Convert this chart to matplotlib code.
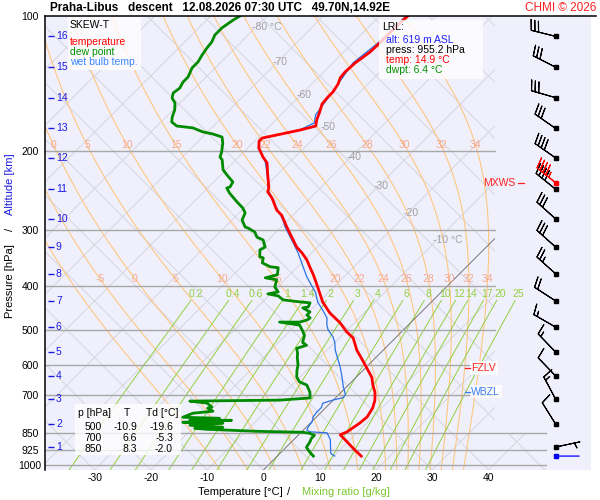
import numpy as np
import matplotlib.pyplot as plt
from matplotlib.path import Path
from matplotlib.patches import PathPatch, Rectangle
from matplotlib.lines import Line2D
from matplotlib.ticker import NullLocator

plt.rcParams['font.family'] = ['Liberation Sans', 'DejaVu Sans']
plt.rcParams['font.size'] = 7.5

# sounding (pressure hPa, temperature degC)
temp_p = [100, 106.3, 114.8, 120.3, 127.2, 133.2, 137.4, 141.7, 147.6, 151.5,
          157.0, 163.6, 170.5, 175.8, 179.5, 187.0, 189.9, 196.8, 206.0, 212.4,
          223.8, 240.4, 246.6, 254.2, 270.6, 277.8, 295.1, 304.4, 327.0, 337.0,
          349.3, 363.8, 377.0, 394.2, 412.5, 433.5, 458.5, 482.5, 505.5, 521.3,
          554.8, 584.1, 608.7, 637.8, 664.3, 688.4, 716.9, 746.5, 781.3, 805.5,
          826.3, 843.4, 856.4, 888.4, 916.7, 955.2]
temp_t = [-55.0, -55.2, -55.2, -55.3, -56.0, -56.2, -56.0, -55.3, -54.8, -54.8,
          -54.6, -53.6, -52.7, -51.8, -53.9, -59.2, -59.2, -58.0, -55.7, -53.9,
          -52.0, -49.3, -48.6, -46.8, -43.8, -42.0, -39.0, -37.4, -33.7, -31.7,
          -29.6, -27.6, -25.8, -23.7, -21.6, -19.3, -16.1, -12.5, -9.7, -7.5,
          -4.7, -1.9, 0.3, 2.8, 4.4, 6.0, 7.4, 8.4, 9.0, 8.8,
          8.4, 8.1, 7.4, 9.9, 12.0, 14.9]

wetb_p = [100, 114.8, 127.2, 146.1, 166.1, 173.0, 179.5, 188.0, 196.8, 209.2,
          223.8, 243.9, 256.9, 270.6, 284.9, 295.1, 310.2, 319.8, 337.0, 362.2,
          381.0, 400.6, 412.5, 433.5, 451.6, 470.5, 487.6, 500.0, 518.2, 534.3,
          553.9, 574.1, 604.3, 636.0, 669.4, 697.2, 708.1, 716.9, 728.6, 745.2,
          762.8, 781.3, 801.6, 822.3, 835.0, 843.5, 847.8, 878.0, 942.0, 955.2]
wetb_t = [-55.3, -55.5, -56.4, -55.0, -53.8, -52.6, -54.0, -59.4, -58.1, -54.8,
          -52.1, -48.9, -46.3, -43.6, -40.9, -39.3, -36.7, -35.1, -32.4, -29.0,
          -26.6, -23.9, -22.3, -20.2, -17.9, -15.7, -14.5, -13.4, -11.3, -9.9,
          -8.6, -7.0, -4.7, -2.6, -0.6, 1.2, 1.3, -0.1, -1.3, -0.8,
          -0.8, -0.6, 0.1, 0.3, 0.6, 1.5, 4.7, 6.5, 9.0, 10.2]

dwpt_p = [100, 102.1, 106.3, 110.2, 114.3, 117.8, 122.2, 126.6, 130.5, 136.7,
          140.3, 144.7, 148.4, 152.3, 156.2, 162.0, 167.9, 172.2, 175.8, 177.5,
          181.2, 183.1, 186.0, 191.8, 200.9, 206.1, 209.2, 220.0, 225.9, 234.2,
          240.4, 241.6, 248.0, 259.5, 267.7, 274.6, 284.6, 295.1, 296.6, 302.8,
          310.8, 315.4, 327.0, 332.0, 343.9, 345.7, 354.6, 361.8, 363.6, 377.0,
          382.9, 386.9, 401.2, 411.7, 415.8, 420.1, 428.8, 433.2, 435.4, 444.5,
          446.8, 456.2, 463.3, 470.5, 475.4, 480.5, 480.5, 488.0, 501.2, 514.6,
          533.3, 541.2, 549.9, 563.2, 577.2, 598.7, 614.2, 636.9, 653.3, 663.4,
          687.7, 709.0, 716.9, 720.6, 728.0, 743.3, 747.1, 758.9, 766.7, 782.8,
          786.8, 795.0, 795.0, 803.2, 807.3, 815.6, 824.0, 828.3, 832.6, 841.2,
          845.5, 849.8, 858.6, 871.9, 890.0, 913.1, 936.7, 955.2]
dwpt_t = [-84.8, -85.3, -85.9, -85.9, -85.2, -85.0, -84.6, -84.1, -84.1, -83.2,
          -83.2, -82.7, -83.0, -82.3, -80.9, -79.7, -78.9, -78.1, -76.5, -73.3,
          -70.8, -68.7, -66.5, -65.3, -63.9, -63.3, -62.4, -60.5, -58.9, -56.6,
          -56.2, -56.6, -55.2, -52.3, -50.2, -48.9, -48.2, -46.4, -45.7, -43.8,
          -42.5, -40.9, -39.3, -39.7, -38.5, -37.7, -37.0, -34.9, -33.3, -32.2,
          -33.8, -31.4, -30.5, -29.0, -30.5, -28.3, -26.7, -23.4, -21.4, -21.0,
          -21.8, -19.8, -19.8, -18.7, -18.9, -19.8, -23.4, -19.3, -17.9, -16.6,
          -15.7, -14.5, -15.7, -14.7, -13.9, -12.5, -11.8, -10.6, -9.2, -7.4,
          -5.6, -4.5, -9.5, -25.3, -21.9, -20.3, -20.9, -19.4, -22.6, -23.7,
          -17.0, -21.9, -14.5, -22.8, -15.5, -21.0, -14.8, -19.6, -17.3, -8.1,
          0.3, 1.7, 2.9, 2.9, 3.3, 3.6, 5.1, 6.4]

# altitude levels and winds (1..16 km)
alt_km = list(range(1, 17))
alt_p = [912, 810, 713, 633, 560, 493, 431, 375, 327, 283, 243, 207, 178, 152, 130, 111]
wind_dir = [78, 328, 332, 316, 316, 300, 303, 312, 312, 312, 309, 305, 305, 286, 297, 284]
wind_kt = [5, 10, 15, 10, 15, 15, 20, 25, 30, 30, 40, 40, 30, 30, 30, 30]
mxws_p, mxws_dir, mxws_kt = 236, 309, 45
sfc_dir, sfc_kt = 90, 2

# lowest reported level, freezing levels, table
lrl_alt, lrl_p, lrl_t, lrl_td = 619, 955.2, 14.9, 6.4
fzlv_p, wbzl_p = 608, 687
tab_p = [500, 700, 850]
tab_t = [-10.9, 6.6, 8.3]
tab_td = [-19.6, -5.3, -2.0]

# diagram background families
isobars = [200, 300, 400, 500, 600, 700, 850, 925, 1000]
thw_list = [-10, -5, 0, 5, 10, 15, 20, 22, 24, 26, 28, 30, 32, 34]
thw_lbl_rows = {194.0: [0, 5, 10, 15, 20, 22, 24, 26, 28, 30, 32, 34],
                385.0: [-5, 0, 5, 10, 15, 20, 22, 24, 26, 28, 30, 32, 34]}
mix_list = [0.2, 0.4, 0.6, 1, 1.4, 2, 3, 4, 6, 8, 10, 12, 14, 17, 20, 25]
isot_lbl_t = [-80, -70, -60, -50, -40, -30, -20, -10]
isot_lbl_p = [105.8, 126.6, 150.0, 176.8, 206.0, 239.4, 274.6, 315.0]

P_BOT = 1025.9
SKEW = 34.64
XMIN, XMAX = -38.8, 58.2
X_EDGE, X_EDGE_LOW = 41.1, 50.2
XB = 51.9
MOIST_SHIFT = 0.8


def skx(t, p):
    return np.asarray(t, float) + SKEW * np.log(P_BOT / np.asarray(p, float))


def dTdlnp(T, p):
    es = 6.112 * np.exp(17.67 * (T - 273.15) / (T - 29.65))
    rs = 0.622 * es / (p - es)
    return (287.04 * T + 2.501e6 * rs) / (1005.7 + 2.501e6 ** 2 * rs * 0.622 / (287.04 * T ** 2))


def moist(thw, lnp):
    T = np.empty((len(lnp), len(thw)))
    T[0] = np.asarray(thw) + 273.15
    for i in range(1, len(lnp)):
        h = lnp[i] - lnp[i - 1]
        p0, p1 = np.exp(lnp[i - 1]), np.exp(lnp[i])
        pm = np.exp(0.5 * (lnp[i] + lnp[i - 1]))
        t = T[i - 1]
        k1 = dTdlnp(t, p0)
        k2 = dTdlnp(t + 0.5 * h * k1, pm)
        k3 = dTdlnp(t + 0.5 * h * k2, pm)
        k4 = dTdlnp(t + h * k3, p1)
        T[i] = t + h * (k1 + 2 * k2 + 2 * k3 + k4) / 6
    return T - 273.15


fig = plt.figure(figsize=(6, 5), dpi=100)
ax = fig.add_axes([45 / 600, 30 / 500, 546 / 600, 454 / 500])
ax.set_facecolor('#f0f0fc')
ax.set_yscale('log')
ax.set_ylim(P_BOT, 100)
ax.set_xlim(XMIN, XMAX)
for s in ['top', 'right', 'bottom']:
    ax.spines[s].set_visible(False)
ax.spines['left'].set_linewidth(1.1)

clip = PathPatch(Path([(XMIN, P_BOT), (X_EDGE_LOW, P_BOT), (X_EDGE_LOW, 850),
                       (X_EDGE, 850), (X_EDGE, 100), (XMIN, 100), (XMIN, P_BOT)]),
                 transform=ax.transData, fc='none', ec='none')

pp = np.exp(np.linspace(np.log(P_BOT), np.log(100), 120))
grid_col = '#d2d2dc'
for t in range(-130, 60, 10):
    ln, = ax.plot(skx(t, pp), pp, color=grid_col, lw=0.6, zorder=1)
    ln.set_clip_path(clip)
for c in range(-40, 210, 10):
    ln, = ax.plot(c - SKEW * np.log(P_BOT / pp), pp, color=grid_col, lw=0.6, zorder=1)
    ln.set_clip_path(clip)

# moist adiabats
lnp_up = np.linspace(np.log(1000), np.log(100), 240)
lnp_dn = np.linspace(np.log(1000), np.log(P_BOT), 6)
Tu = moist(thw_list, lnp_up)
Td_ = moist(thw_list, lnp_dn)
lnp_all = np.concatenate([lnp_dn[::-1], lnp_up[1:]])
T_all = np.vstack([Td_[::-1], Tu[1:]])
p_all = np.exp(lnp_all)
for j, th in enumerate(thw_list):
    X = skx(T_all[:, j], p_all) + MOIST_SHIFT
    ln, = ax.plot(X, p_all, color='#ffc47a', lw=0.75, zorder=2)
    ln.set_clip_path(clip)
    for prow, lbls in thw_lbl_rows.items():
        if th in lbls:
            xl = np.interp(np.log(prow), lnp_all[::-1], X[::-1])
            ax.text(xl, prow, f'{th}', color='#f6a88c', ha='center', va='center',
                    fontsize=7.5, zorder=2.5)

# mixing ratio lines
pm_ = np.exp(np.linspace(np.log(P_BOT), np.log(430), 40))
for w in mix_list:
    a = np.log(w * pm_ / (622 + w) / 6.112)
    tw = 243.5 * a / (17.67 - a)
    ax.plot(skx(tw, pm_), pm_, color='#90d040', lw=0.7, zorder=2)
    a0 = np.log(w * 416 / (622 + w) / 6.112)
    ax.text(skx(243.5 * a0 / (17.67 - a0), 416), 416, f'{w:g}', color='#90d040',
            ha='center', va='center', fontsize=7.5, zorder=2.5)

# 0 degC isotherm
ln, = ax.plot(skx(0, pp), pp, color='#707070', lw=0.6, zorder=2)
ln.set_clip_path(clip)

for t, p in zip(isot_lbl_t, isot_lbl_p):
    lab = f'{t} °C' if t in (-80, -10) else f'{t}'
    ax.text(skx(t, p) - 0.8, p, lab, color='#a0a0a0', ha='left', va='center',
            fontsize=7.5, zorder=2.5)

# isobars
for p in isobars:
    ax.plot([XMIN, X_EDGE_LOW if p >= 850 else X_EDGE], [p, p], color='#a8a8a8',
            lw=1.0, zorder=2)

# profiles
ax.plot(skx(wetb_t, wetb_p), wetb_p, color='#2a72e6', lw=0.9, zorder=4)
ax.plot(skx(dwpt_t, dwpt_p), dwpt_p, color='#008a00', lw=2.0, zorder=5)
ax.plot(skx(temp_t, temp_p), temp_p, color='#ff0000', lw=2.0, zorder=6)

# winds
bsz = dict(spacing=0.15, height=0.42, width=0.22)
wd = np.radians(wind_dir)
ws = np.array(wind_kt, float)
ax.barbs(np.full(len(alt_p), XB), alt_p, -ws * np.sin(wd), -ws * np.cos(wd),
         length=6, lw=0.8, color='k', sizes=bsz, zorder=7, clip_on=False)
ax.plot(np.full(len(alt_p), XB), alt_p, 's', ms=2.3, color='k', zorder=8)
md = np.radians(mxws_dir)
ax.barbs([XB], [mxws_p], [-mxws_kt * np.sin(md)], [-mxws_kt * np.cos(md)],
         length=6, lw=0.8, color='#ff0000', sizes=bsz, zorder=7, clip_on=False)
ax.plot([XB], [mxws_p], 's', ms=2.3, color='#ff0000', zorder=8)
sd = np.radians(sfc_dir)
ax.annotate('', xy=(XB, lrl_p), xytext=(17 * np.sin(sd), 17 * np.cos(sd)),
            textcoords='offset points', arrowprops=dict(arrowstyle='-', color='#0000ff', lw=0.9,
                                                        shrinkA=0, shrinkB=0), zorder=7)
ax.plot([XB], [lrl_p], 's', ms=2.3, color='#0000ff', zorder=8)
ax.text(0.862, mxws_p, 'MXWS', transform=ax.get_yaxis_transform(), color='#ff2020',
        ha='right', va='center', fontsize=7.5, zorder=8)
ax.plot([0.867, 0.877], [mxws_p, mxws_p], transform=ax.get_yaxis_transform(),
        color='#ff2020', lw=0.9, zorder=8)

# freezing levels
for p, lab, col in [(fzlv_p, 'FZLV', '#ff2020'), (wbzl_p, 'WBZL', '#3a7ff0')]:
    ax.text(0.781, p, lab, transform=ax.get_yaxis_transform(), color=col, ha='left',
            va='center', fontsize=7.5, zorder=9,
            bbox=dict(boxstyle='square,pad=0.15', fc='white', ec='none', alpha=0.8))
    ax.plot([0.769, 0.779], [p, p], transform=ax.get_yaxis_transform(), color=col,
            lw=0.9, zorder=9)

# altitude scale
ax.hlines(alt_p, 3 / 546, 9 / 546, transform=ax.get_yaxis_transform(), color='#1a1ae6',
          lw=1.0, zorder=3)
for k, p in zip(alt_km, alt_p):
    ax.text(11 / 546, p, str(k), transform=ax.get_yaxis_transform(), color='#1a1ae6',
            ha='left', va='center', fontsize=7.5, zorder=3)

# axes ticks
ax.yaxis.set_minor_locator(NullLocator())
ax.set_yticks([100] + isobars)
ax.set_yticklabels([str(p) for p in [100] + isobars])
ax.tick_params(axis='y', length=0, pad=10.8, labelsize=7.5)
for lb in ax.get_yticklabels():
    lb.set_ha('center')
xt = list(range(-30, 50, 10))
ax.set_xticks(xt)
ax.set_xticklabels([str(t) for t in xt])
ax.tick_params(axis='x', length=0, pad=2, labelsize=7.5)


def fx(px):
    return px / 600


def fy(py):
    return 1 - py / 500


# boxes
for x0, y0, x1, y1 in [(68, 17, 141, 70), (379, 20, 483, 79), (75, 404, 181, 455)]:
    fig.add_artist(Rectangle((fx(x0), fy(y1)), fx(x1) - fx(x0), fy(y0) - fy(y1),
                             transform=fig.transFigure, fc='white', ec='none', alpha=0.8,
                             zorder=2))

leg = [('SKEW-T', 'black', 25), ('temperature', '#ff0000', 42), ('dew point', '#009000', 52),
       ('wet bulb temp.', '#3a86ff', 62)]
for s, c, y in leg:
    fig.text(fx(70), fy(y), s, color=c, ha='left', va='center', fontsize=7.5, zorder=3)

fig.text(fx(382), fy(27), 'LRL:', ha='left', va='center', fontsize=7.5, zorder=3)
lrl = [(f'alt: {lrl_alt} m ASL', '#2020ff', 40), (f'press: {lrl_p:.1f} hPa', 'black', 50),
       (f'temp: {lrl_t:.1f} °C', '#ff0000', 60), (f'dwpt: {lrl_td:.1f} °C', '#009000', 70)]
for s, c, y in lrl:
    fig.text(fx(386), fy(y), s, color=c, ha='left', va='center', fontsize=7.5, zorder=3)

fig.text(fx(78), fy(413), 'p [hPa]', ha='left', va='center', fontsize=7.5, zorder=3)
fig.text(fx(127), fy(413), 'T', ha='center', va='center', fontsize=7.5, zorder=3)
fig.text(fx(146), fy(413), 'Td [°C]', ha='left', va='center', fontsize=7.5, zorder=3)
for i, (p, t, td) in enumerate(zip(tab_p, tab_t, tab_td)):
    y = 427 + 11 * i
    fig.text(fx(102), fy(y), str(p), ha='right', va='center', fontsize=7.5, zorder=3)
    fig.text(fx(137), fy(y), f'{t:.1f}', ha='right', va='center', fontsize=7.5, zorder=3)
    fig.text(fx(173), fy(y), f'{td:.1f}', ha='right', va='center', fontsize=7.5, zorder=3)

# title line
fig.text(fx(50), fy(8), 'Praha-Libus   descent   12.08.2026 07:30 UTC   49.70N,14.92E',
         ha='left', va='center', fontsize=8.5, fontweight='bold')
fig.text(fx(596), fy(8), 'CHMI © 2026', color='#ff2020', ha='right', va='center', fontsize=8.5)
fig.add_artist(Line2D([fx(45), fx(596)], [fy(15.5), fy(15.5)], color='black', lw=1.1))

# axis titles
fig.text(fx(283), fy(492), 'Temperature [°C]', ha='right', va='center', fontsize=8)
fig.text(fx(289), fy(492), '/', ha='center', va='center', fontsize=8)
fig.text(fx(302), fy(492), 'Mixing ratio [g/kg]', color='#7cc832', ha='left', va='center',
         fontsize=8)
fig.text(fx(10), fy(281), 'Pressure [hPa]', rotation=90, ha='center', va='center', fontsize=8)
fig.text(fx(10), fy(229), '/', rotation=90, ha='center', va='center', fontsize=8)
fig.text(fx(10), fy(184), 'Altitude [km]', rotation=90, color='#1a1ae6', ha='center',
         va='center', fontsize=8)

fig.savefig('out.png', dpi=100)
